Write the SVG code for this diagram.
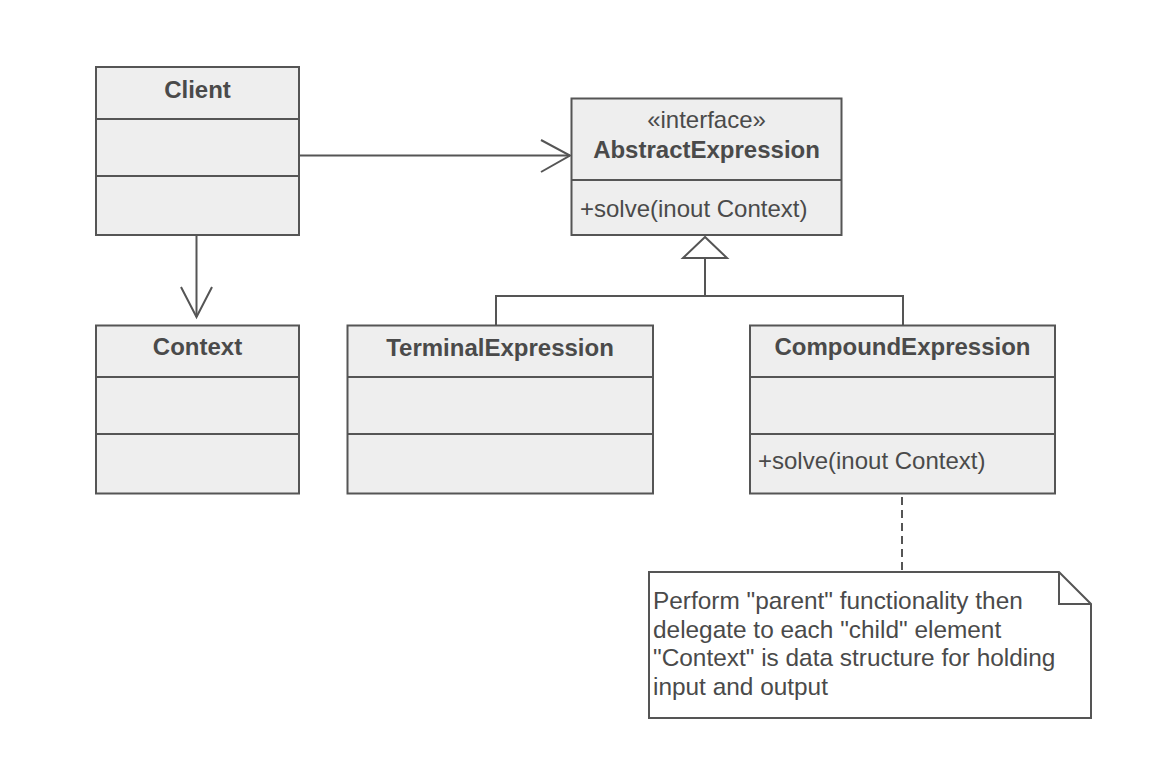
<svg xmlns="http://www.w3.org/2000/svg" width="1172" height="778" viewBox="0 0 1172 778">
<style>
.box{fill:#eeeeee;stroke:#555555;stroke-width:2}
.div{stroke:#555555;stroke-width:2;fill:none}
.t{font-family:"Liberation Sans",Arial,Helvetica,sans-serif;font-size:24px;fill:#4a4a4a}
.n{font-size:24.4px}
.b{font-weight:bold;text-anchor:middle}
.c{text-anchor:middle}
.ln{stroke:#555555;stroke-width:2;fill:none}
</style>
<rect width="1172" height="778" fill="#ffffff"/>
<g id="connectors">
  <line class="ln" x1="299" y1="155.5" x2="570" y2="155.5"/>
  <polyline class="ln" points="541,140 570,155.5 541,172"/>
  <line class="ln" x1="196.5" y1="235" x2="196.5" y2="317"/>
  <polyline class="ln" points="181,287 196.5,317 212,287"/>
  <polyline class="ln" points="496,325 496,296 903,296 903,325"/>
  <line class="ln" x1="705" y1="296" x2="705" y2="258"/>
  <polygon points="705,237 683,258 727,258" fill="#ffffff" stroke="#555555" stroke-width="2"/>
  <line class="ln" x1="902" y1="497" x2="902" y2="570" stroke-dasharray="8,5"/>
</g>
<g id="client">
  <rect class="box" x="96" y="67" width="203" height="168"/>
  <line class="div" x1="96" y1="119" x2="299" y2="119"/>
  <line class="div" x1="96" y1="176" x2="299" y2="176" stroke-width="3" stroke="#444444"/>
  <text class="t b" x="197.5" y="98">Client</text>
</g>
<g id="abstractExpression">
  <rect class="box" x="571.5" y="98.5" width="270" height="136.5"/>
  <line class="div" x1="571.5" y1="180" x2="841.5" y2="180"/>
  <text class="t c" x="706.5" y="128">«interface»</text>
  <text class="t b" x="706.5" y="158">AbstractExpression</text>
  <text class="t" x="580" y="216.5">+solve(inout Context)</text>
</g>
<g id="context">
  <rect class="box" x="96" y="325.5" width="203" height="168"/>
  <line class="div" x1="96" y1="377" x2="299" y2="377"/>
  <line class="div" x1="96" y1="434" x2="299" y2="434"/>
  <text class="t b" x="197.5" y="355">Context</text>
</g>
<g id="terminalExpression">
  <rect class="box" x="347.5" y="325.5" width="305.5" height="168"/>
  <line class="div" x1="347.5" y1="377" x2="653" y2="377"/>
  <line class="div" x1="347.5" y1="434" x2="653" y2="434"/>
  <text class="t b" x="500" y="355.5">TerminalExpression</text>
</g>
<g id="compoundExpression">
  <rect class="box" x="750" y="325.5" width="305" height="168"/>
  <line class="div" x1="750" y1="377" x2="1055" y2="377"/>
  <line class="div" x1="750" y1="434" x2="1055" y2="434"/>
  <text class="t b" x="902.5" y="355">CompoundExpression</text>
  <text class="t" x="758" y="468.5">+solve(inout Context)</text>
</g>
<g id="note">
  <path d="M649,572 L1059,572 L1091,604 L1091,718 L649,718 Z" fill="#ffffff" stroke="#555555" stroke-width="2"/>
  <polyline class="ln" points="1059,572 1059,604 1091,604"/>
  <text class="t n" x="653" y="608.5">Perform "parent" functionality then</text>
  <text class="t n" x="653" y="637.5">delegate to each "child" element</text>
  <text class="t n" x="653" y="666">"Context" is data structure for holding</text>
  <text class="t n" x="653" y="695">input and output</text>
</g>
</svg>
